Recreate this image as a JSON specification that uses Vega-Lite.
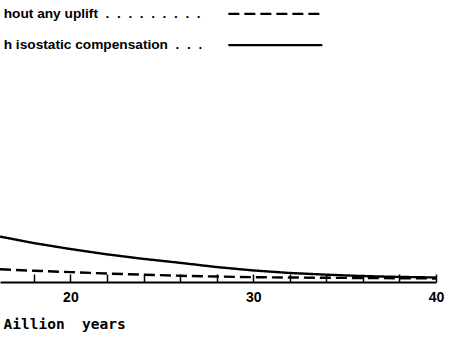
{
  "$schema": "https://vega.github.io/schema/vega-lite/v6.json",
  "width": 436,
  "height": 282,
  "autosize": {"type": "none"},
  "padding": {"left": 0, "top": 0, "right": 13, "bottom": 57},
  "background": "white",
  "config": {"view": {"stroke": null}, "font": "Liberation Sans"},
  "data": {"values": [
    {"year": 16.15, "height": 1.61, "series": "h isostatic compensation . . ."},
    {"year": 18, "height": 1.38, "series": "h isostatic compensation . . ."},
    {"year": 20, "height": 1.17, "series": "h isostatic compensation . . ."},
    {"year": 22, "height": 0.98, "series": "h isostatic compensation . . ."},
    {"year": 24, "height": 0.82, "series": "h isostatic compensation . . ."},
    {"year": 26, "height": 0.68, "series": "h isostatic compensation . . ."},
    {"year": 28, "height": 0.53, "series": "h isostatic compensation . . ."},
    {"year": 30, "height": 0.41, "series": "h isostatic compensation . . ."},
    {"year": 32, "height": 0.32, "series": "h isostatic compensation . . ."},
    {"year": 34, "height": 0.26, "series": "h isostatic compensation . . ."},
    {"year": 36, "height": 0.21, "series": "h isostatic compensation . . ."},
    {"year": 38, "height": 0.18, "series": "h isostatic compensation . . ."},
    {"year": 40, "height": 0.16, "series": "h isostatic compensation . . ."},
    {"year": 16.15, "height": 0.45, "series": "hout any uplift . . . . . . . . ."},
    {"year": 18, "height": 0.40, "series": "hout any uplift . . . . . . . . ."},
    {"year": 20, "height": 0.35, "series": "hout any uplift . . . . . . . . ."},
    {"year": 22, "height": 0.30, "series": "hout any uplift . . . . . . . . ."},
    {"year": 24, "height": 0.26, "series": "hout any uplift . . . . . . . . ."},
    {"year": 26, "height": 0.22, "series": "hout any uplift . . . . . . . . ."},
    {"year": 28, "height": 0.195, "series": "hout any uplift . . . . . . . . ."},
    {"year": 30, "height": 0.17, "series": "hout any uplift . . . . . . . . ."},
    {"year": 34, "height": 0.15, "series": "hout any uplift . . . . . . . . ."},
    {"year": 40, "height": 0.125, "series": "hout any uplift . . . . . . . . ."}
  ]},
  "mark": {"type": "line", "color": "black", "strokeWidth": 2.4},
  "encoding": {
    "x": {
      "field": "year", "type": "quantitative",
      "scale": {"domain": [16.15, 40], "nice": false, "zero": false},
      "axis": {
        "values": [18, 20, 22, 24, 26, 28, 30, 32, 34, 36, 38, 40],
        "labelExpr": "datum.value % 10 === 0 ? datum.label : ''",
        "grid": false,
        "domainColor": "black", "domainWidth": 1.8,
        "tickColor": "black", "tickWidth": 1.5, "tickSize": -8,
        "labelColor": "black", "labelFont": "Liberation Sans", "labelFontWeight": "bold", "labelFontSize": 14,
        "labelPadding": 16, "labelFlush": false, "labelOverlap": false,
        "title": "Aillion\u00a0\u00a0years",
        "titleFont": "DejaVu Sans Mono", "titleFontSize": 14.5, "titleFontWeight": "bold", "titleColor": "black",
        "titleAnchor": "start", "titleAlign": "left", "titleBaseline": "alphabetic",
        "titleX": 3, "titleY": 46
      }
    },
    "y": {
      "field": "height", "type": "quantitative",
      "scale": {"domain": [0, 10], "nice": false, "zero": false},
      "axis": null
    },
    "strokeDash": {
      "field": "series", "type": "nominal",
      "scale": {
        "domain": ["hout any uplift . . . . . . . . .", "h isostatic compensation . . ."],
        "range": [[11, 5], [1, 0]]
      },
      "legend": {
        "title": null,
        "orient": "none", "legendX": 3, "legendY": 7,
        "direction": "vertical",
        "padding": 0,
        "symbolType": "M-9.4,0H9.4", "symbolSize": 100, "symbolStrokeWidth": 2.2,
        "symbolStrokeColor": "black",
        "rowPadding": 16.3,
        "labelExpr": "replace(datum.label, / \\./g, '\u00a0\u00a0.')",
        "labelFont": "Liberation Sans", "labelFontSize": 13.7, "labelFontWeight": "bold", "labelColor": "black",
        "labelLimit": 0,
        "labelOffset": -278.5, "symbolOffset": 265.5
      }
    }
  }
}
